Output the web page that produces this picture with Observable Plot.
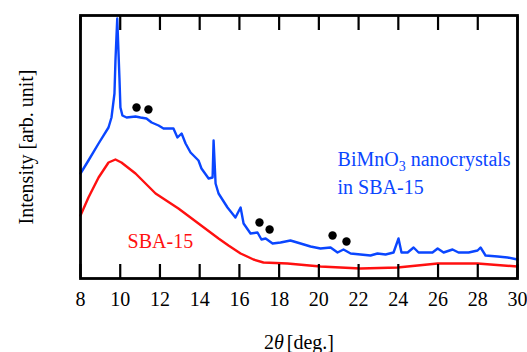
<!DOCTYPE html>
<html><head><meta charset="utf-8">
<script src="https://cdn.jsdelivr.net/npm/d3@7"></script>
<script src="https://cdn.jsdelivr.net/npm/@observablehq/plot@0.6"></script>
<style>body{margin:0;background:#fff} svg{display:block} svg text{font-family:"Liberation Serif","Times New Roman",serif !important}</style>
</head><body><div id="chart"></div>
<script>
// x ticks (2θ, degrees)
const xTicks = [8, 10, 12, 14, 16, 18, 20, 22, 24, 26, 28, 30];

// BiMnO3 nanocrystals in SBA-15 (blue)
const blueTheta = [8.00, 8.40, 8.91, 9.41, 9.56, 9.71, 9.76, 9.85, 9.96, 10.01, 10.11, 10.32, 10.77, 11.02, 11.32, 11.58, 11.93, 12.18, 12.68, 12.88, 13.09, 13.29, 13.54, 13.84, 13.94, 14.09, 14.45, 14.65, 14.70, 14.80, 14.95, 15.40, 15.80, 16.06, 16.21, 16.56, 16.91, 17.11, 17.32, 17.67, 18.07, 18.57, 19.08, 19.58, 20.08, 20.59, 20.94, 21.24, 21.60, 22.10, 22.60, 22.95, 23.36, 23.76, 24.01, 24.16, 24.47, 24.77, 25.02, 25.72, 25.98, 26.28, 26.73, 27.03, 27.54, 27.99, 28.14, 28.39, 29.00, 29.50, 30.00];
const blueI = [105, 118, 135, 151, 161, 185, 218, 260, 201, 171, 163, 161, 162, 161, 160, 156, 153, 150, 150, 141, 145, 135, 126, 120, 118, 110, 100, 101, 138, 95, 85, 71, 61, 71, 55, 45, 46, 39, 40, 35, 36, 38, 35, 32, 30, 31, 26, 29, 25, 24, 23, 25, 24, 26, 40, 26, 26, 31, 26, 26, 30, 26, 29, 26, 26, 28, 31, 23, 22, 21, 19];

// SBA-15 (red)
const redTheta = [8.00, 8.40, 8.91, 9.41, 9.76, 10.06, 10.77, 11.78, 12.93, 13.94, 14.95, 15.45, 16.06, 16.71, 17.21, 18.42, 20.08, 22.10, 23.96, 25.98, 27.99, 30.00];
const redI = [63, 81, 101, 116, 119, 116, 105, 85, 70, 55, 40, 33, 25, 19, 16, 15, 12, 10, 11, 15, 15, 12];

// marker dots (black)
const dotTheta = [10.82, 11.42, 17.01, 17.52, 20.69, 21.39];
const dotI = [171, 169, 56, 49, 43, 37];

// annotations
const labelText = ["BiMnO3 nanocrystals", "in SBA-15", "SBA-15"];
const labelTheta = [20.94, 20.94, 10.37];
const labelI = [119, 91, 37];
const labelColor = ["blue", "blue", "red"];

const blueData = blueTheta.map((t, i) => ({t, v: blueI[i]}));
const redData = redTheta.map((t, i) => ({t, v: redI[i]}));
const dotData = dotTheta.map((t, i) => ({t, v: dotI[i]}));
const labels = labelText.map((s, i) => ({s, t: labelTheta[i], v: labelI[i], c: labelColor[i]}));

const BLUE = "#0a46ff", RED = "#ff1010";
const SERIF = "Liberation Serif";

const chart = Plot.plot({
  width: 527, height: 352,
  marginLeft: 80, marginRight: 10, marginTop: 15, marginBottom: 74,
  x: {domain: [8, 30]},
  y: {domain: [0, 263], axis: null},
  style: {fontFamily: SERIF, fontSize: "20px", color: "black", background: "white"},
  marks: [
    Plot.line(redData, {x: "t", y: "v", stroke: RED, strokeWidth: 2.4}),
    Plot.line(blueData, {x: "t", y: "v", stroke: BLUE, strokeWidth: 2.4}),
    Plot.dot(dotData, {x: "t", y: "v", r: 4.2, fill: "black"}),
    Plot.axisX({ticks: xTicks, anchor: "bottom", tickSize: -14, tickPadding: 27, label: null, strokeWidth: 2.2, fontSize: 20}),
    Plot.axisX({ticks: xTicks, anchor: "top", tickSize: -14, tickFormat: () => "", label: null, strokeWidth: 2.2}),
    Plot.frame({stroke: "black", strokeWidth: 2.8}),
    Plot.text(labels, {x: "t", y: "v", text: "s", fill: d => d.c === "blue" ? BLUE : RED, textAnchor: "start", fontSize: 20}),
    Plot.text(["2θ[deg.]"], {frameAnchor: "bottom", lineAnchor: "middle", textAnchor: "middle", dy: 64, fontSize: 20, fill: "black"}),
    Plot.text(["Intensity [arb. unit]"], {frameAnchor: "left", textAnchor: "middle", lineAnchor: "middle", rotate: -90, dx: -54, fontSize: 20, fill: "black"})
  ]
});

// fonts, subscript and italic theta
d3.select(chart).selectAll("text").attr("font-family", SERIF).each(function() {
  const el = d3.select(this);
  const s = el.text();
  if (s === "BiMnO3 nanocrystals") {
    el.text(null);
    el.append("tspan").text("BiMnO");
    el.append("tspan").attr("dy", "5").attr("font-size", "14").text("3");
    el.append("tspan").attr("dy", "-5").text(" nanocrystals");
  } else if (s === "2θ[deg.]") {
    el.text(null);
    el.append("tspan").text("2");
    el.append("tspan").attr("font-style", "italic").text("θ");
    el.append("tspan").attr("dx", "3").text("[deg.]");
  }
});

document.getElementById("chart").appendChild(chart);
</script>
</body></html>
